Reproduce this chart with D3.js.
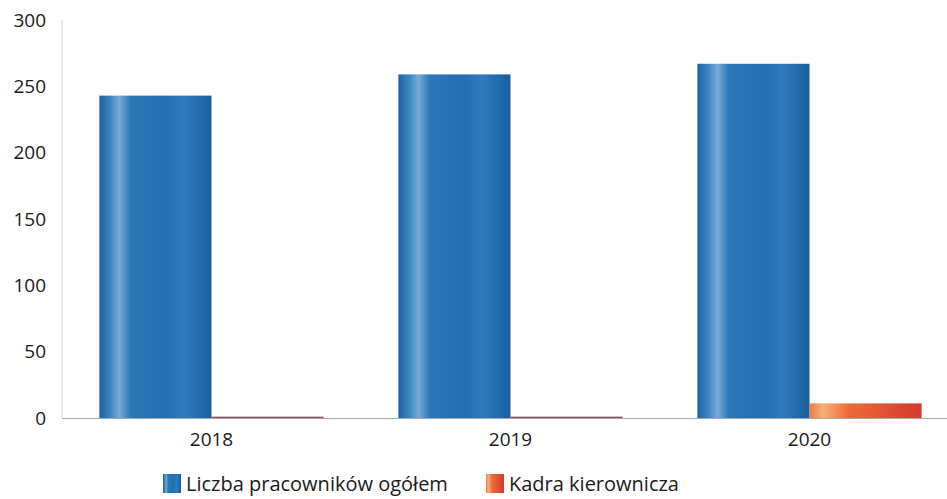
<!DOCTYPE html>
<html>
<head>
<meta charset="utf-8">
<script src="https://cdn.jsdelivr.net/npm/d3@7"></script>
<style>
  body { margin: 0; background: #fff; }
  svg text { font-family: "Open Sans", "Noto Sans", sans-serif; fill: #1a1a1a; }
</style>
</head>
<body>
<div id="chart"></div>
<script>
// data
var years = ["2018", "2019", "2020"];
var seriesNames = ["Liczba pracowników ogółem", "Kadra kierownicza"];
var totalStaff = [243, 259, 267];
var managers = [1, 1, 11];
var yTicks = [0, 50, 100, 150, 200, 250, 300];

var width = 947, height = 499;
var mLeft = 62, mRight = 959, mTop = 20, mBottom = 418;

var svg = d3.select("#chart")
  .append("svg")
  .attr("width", width)
  .attr("height", height);

// gradients for the bars
var defs = svg.append("defs");
var gBlue = defs.append("linearGradient")
  .attr("id", "gradBlue")
  .attr("x1", "0%").attr("x2", "100%").attr("y1", "0%").attr("y2", "0%");
gBlue.append("stop").attr("offset", "0%").attr("stop-color", "#1b62a2");
gBlue.append("stop").attr("offset", "10%").attr("stop-color", "#3d88c2");
gBlue.append("stop").attr("offset", "18%").attr("stop-color", "#78aad6");
gBlue.append("stop").attr("offset", "28%").attr("stop-color", "#2b78b8");
gBlue.append("stop").attr("offset", "60%").attr("stop-color", "#216fb0");
gBlue.append("stop").attr("offset", "75%").attr("stop-color", "#2e7cbc");
gBlue.append("stop").attr("offset", "100%").attr("stop-color", "#1a5e9e");

var gOrange = defs.append("linearGradient")
  .attr("id", "gradOrange")
  .attr("x1", "0%").attr("x2", "100%").attr("y1", "0%").attr("y2", "0%");
gOrange.append("stop").attr("offset", "0%").attr("stop-color", "#f07a3c");
gOrange.append("stop").attr("offset", "12%").attr("stop-color", "#f8b07a");
gOrange.append("stop").attr("offset", "35%").attr("stop-color", "#ec6a3a");
gOrange.append("stop").attr("offset", "100%").attr("stop-color", "#d43a2c");

var x0 = d3.scaleBand()
  .domain(years)
  .range([mLeft, mRight])
  .paddingInner(0.25)
  .paddingOuter(0.125);

var x1 = d3.scaleBand()
  .domain([0, 1])
  .range([0, x0.bandwidth()]);

var y = d3.scaleLinear()
  .domain([0, 300])
  .range([mBottom, mTop]);

// y axis line
svg.append("line")
  .attr("x1", mLeft).attr("x2", mLeft)
  .attr("y1", mTop).attr("y2", mBottom)
  .style("stroke", "#d9cce6")
  .style("stroke-width", 1);

// y tick labels
svg.selectAll(".ylab")
  .data(yTicks)
  .enter()
  .append("text")
  .attr("class", "ylab")
  .attr("x", 46)
  .attr("y", function(d) { return y(d); })
  .attr("dy", "0.35em")
  .attr("text-anchor", "end")
  .style("font-size", "19px")
  .text(function(d) { return d; });

// bars
var rows = years.map(function(yr, i) {
  return { year: yr, values: [totalStaff[i], managers[i]] };
});

var groups = svg.selectAll(".grp")
  .data(rows)
  .enter()
  .append("g")
  .attr("class", "grp")
  .attr("transform", function(d) { return "translate(" + x0(d.year) + ",0)"; });

groups.selectAll("rect")
  .data(function(d) { return d.values; })
  .enter()
  .append("rect")
  .attr("x", function(d, i) { return x1(i); })
  .attr("y", function(d) { return y(d); })
  .attr("width", x1.bandwidth())
  .attr("height", function(d) { return mBottom - y(d); })
  .style("fill", function(d, i) {
    if (i == 0) return "url(#gradBlue)";
    return d < 3 ? "#8a4a6a" : "url(#gradOrange)";
  });

// baseline
svg.append("line")
  .attr("x1", mLeft).attr("x2", width)
  .attr("y1", mBottom + 0.5).attr("y2", mBottom + 0.5)
  .style("stroke", "#a8a8a8")
  .style("stroke-width", 1);

// x labels
svg.selectAll(".xlab")
  .data(years)
  .enter()
  .append("text")
  .attr("class", "xlab")
  .attr("x", function(d) { return x0(d) + x0.bandwidth() / 2; })
  .attr("y", 446)
  .attr("text-anchor", "middle")
  .style("font-size", "19px")
  .text(function(d) { return d; });

// legend
var legendX = [163, 486];
var legend = svg.selectAll(".leg")
  .data(seriesNames)
  .enter()
  .append("g")
  .attr("class", "leg")
  .attr("transform", function(d, i) { return "translate(" + legendX[i] + ",474)"; });

legend.append("rect")
  .attr("width", 18)
  .attr("height", 19)
  .style("fill", function(d, i) { return i == 0 ? "url(#gradBlue)" : "url(#gradOrange)"; });

legend.append("text")
  .attr("x", 23)
  .attr("y", 9.5)
  .attr("dy", "0.35em")
  .style("font-size", "20px")
  .text(function(d) { return d; });
</script>
</body>
</html>
